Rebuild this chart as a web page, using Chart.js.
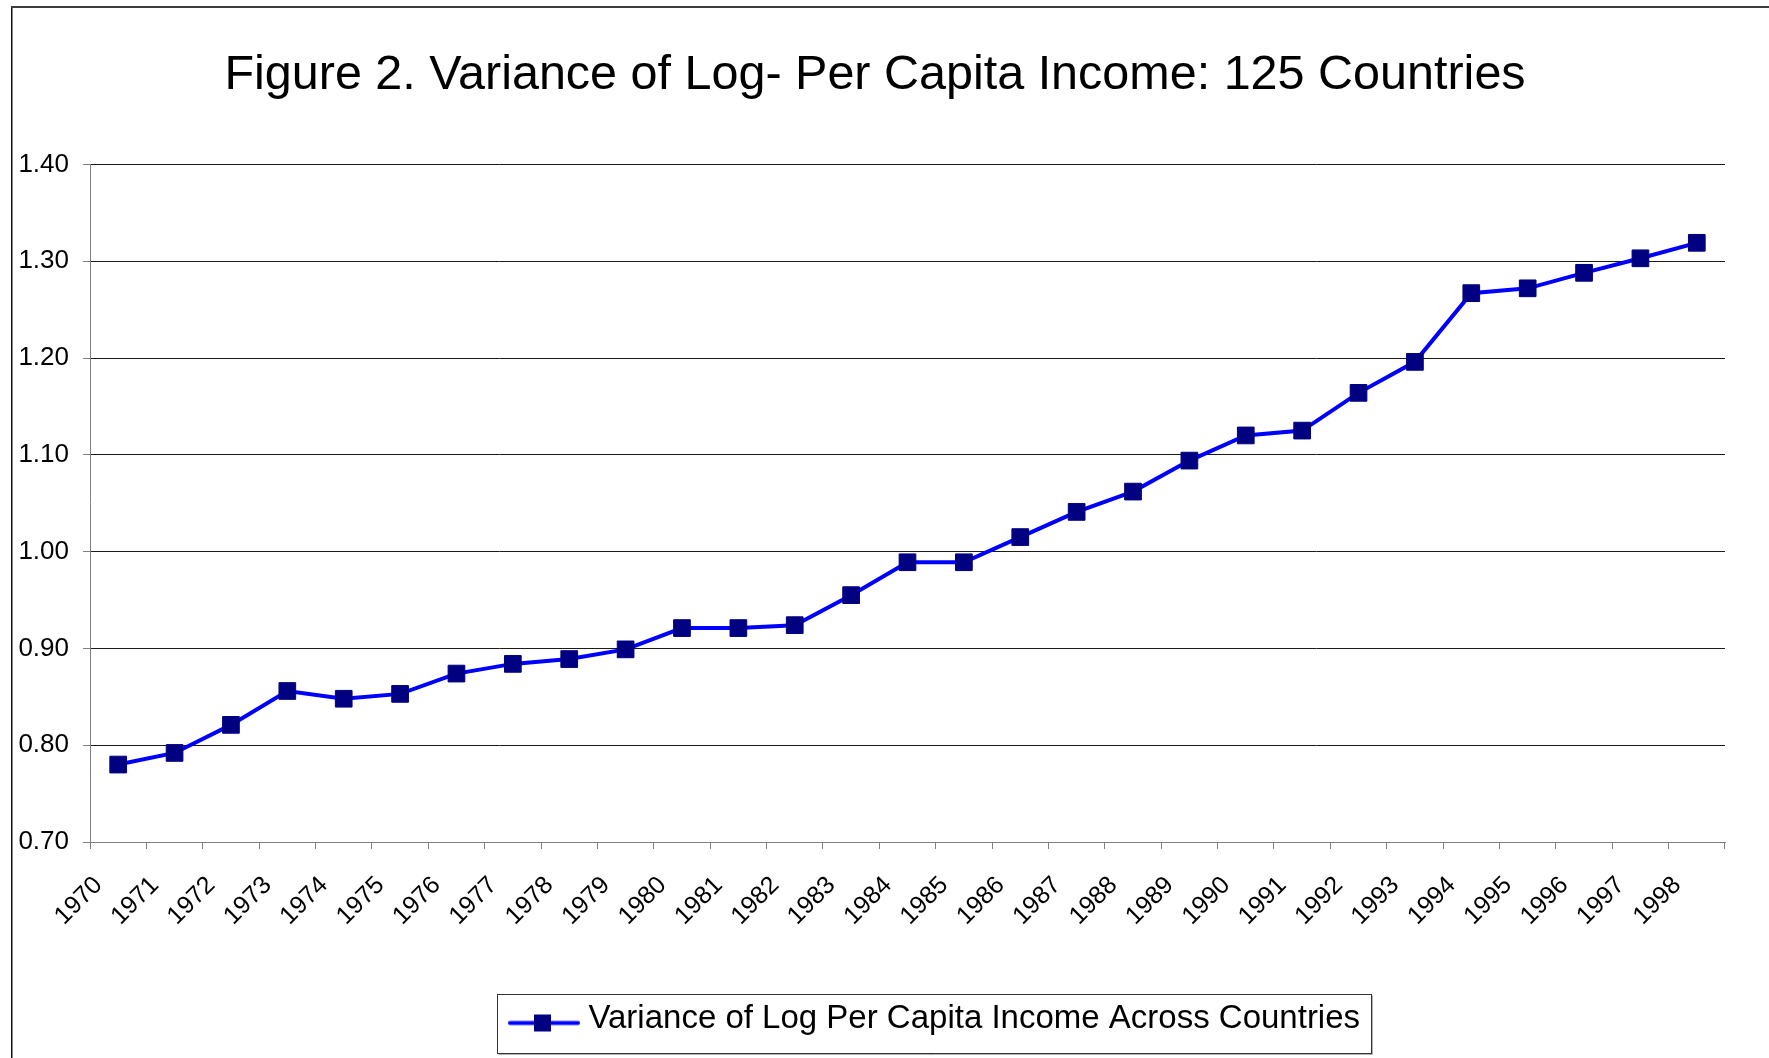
<!DOCTYPE html>
<html lang="en">
<head>
    <meta charset="UTF-8">
    <title>Figure 2. Variance of Log- Per Capita Income: 125 Countries</title>
    <script src="https://cdn.jsdelivr.net/npm/chart.js"></script>
    <style>
        body {
            margin: 0;
            background: #fff;
        }
        .chart-wrap {
            width: 1769px;
            height: 1058px;
        }
    </style>
</head>
<body>
    <div class="chart-wrap">
        <canvas id="varChart" width="1769" height="1058"></canvas>
    </div>
    <script>
        // Datos
        const years = ['1970', '1971', '1972', '1973', '1974', '1975', '1976', '1977', '1978', '1979',
                       '1980', '1981', '1982', '1983', '1984', '1985', '1986', '1987', '1988', '1989',
                       '1990', '1991', '1992', '1993', '1994', '1995', '1996', '1997', '1998'];
        const variance = [0.780, 0.792, 0.821, 0.856, 0.848, 0.853, 0.874, 0.884, 0.889, 0.899,
                          0.921, 0.921, 0.924, 0.955, 0.989, 0.989, 1.015, 1.041, 1.062, 1.094,
                          1.120, 1.125, 1.164, 1.196, 1.267, 1.272, 1.288, 1.303, 1.319];
        const yTicks = [0.70, 0.80, 0.90, 1.00, 1.10, 1.20, 1.30, 1.40];
        const seriesName = 'Variance of Log Per Capita Income Across Countries';
        const chartTitle = 'Figure 2. Variance of Log- Per Capita Income: 125 Countries';

        Chart.defaults.font.family = '"Liberation Sans", Arial, sans-serif';
        Chart.defaults.color = '#000';

        // Icono de la leyenda: linea azul con cuadrado
        const legendIcon = document.createElement('canvas');
        legendIcon.width = 72;
        legendIcon.height = 34;
        (function () {
            const c = legendIcon.getContext('2d');
            c.strokeStyle = '#0000FF';
            c.lineWidth = 4;
            c.lineCap = 'round';
            c.beginPath();
            c.moveTo(2, 21.5);
            c.lineTo(70, 21.5);
            c.stroke();
            c.fillStyle = '#000080';
            c.fillRect(26, 13, 17, 17);
        })();

        // Marco del area del grafico, desplazamientos y borde de la leyenda
        const framePlugin = {
            id: 'frame',
            beforeDraw(chart) {
                const ctx = chart.ctx;
                ctx.save();
                ctx.fillStyle = '#fff';
                ctx.fillRect(0, 0, chart.width, chart.height);
                ctx.fillStyle = '#111';
                ctx.fillRect(11, 6, 1.5, chart.height);
                ctx.fillStyle = '#3c3c3c';
                ctx.fillRect(11, 6, chart.width, 2);
                ctx.restore();
            },
            afterLayout(chart, args, opts) {
                chart.legend.left += opts.legendShift;
                chart.legend.right += opts.legendShift;
                chart.titleBlock.left += opts.titleShift;
                chart.titleBlock.right += opts.titleShift;
            },
            afterDraw(chart) {
                const h = chart.legend.legendHitBoxes[0];
                if (!h) return;
                const ctx = chart.ctx;
                const x0 = Math.round(h.left - 19) + 0.5;
                const x1 = Math.round(h.left + h.width + 11) + 0.5;
                const y0 = Math.round(h.top - 8.5) + 0.5;
                const y1 = Math.round(h.top + h.height + 18) + 0.5;
                ctx.save();
                ctx.strokeStyle = '#b0b0b0';
                ctx.lineWidth = 1;
                ctx.beginPath();
                ctx.moveTo(x0 + 1, y1 + 1);
                ctx.lineTo(x1 + 1, y1 + 1);
                ctx.lineTo(x1 + 1, y0 + 1);
                ctx.stroke();
                ctx.strokeStyle = '#333';
                ctx.strokeRect(x0, y0, x1 - x0, y1 - y0);
                ctx.restore();
            }
        };

        const ctx = document.getElementById('varChart').getContext('2d');
        new Chart(ctx, {
            type: 'line',
            data: {
                labels: years,
                datasets: [{
                    label: seriesName,
                    data: variance,
                    borderColor: '#0000FF',
                    borderWidth: 4,
                    tension: 0,
                    fill: false,
                    pointStyle: 'rect',
                    pointRadius: 11.8,
                    pointBackgroundColor: '#000080',
                    pointBorderColor: '#000080',
                    pointBorderWidth: 1
                }]
            },
            options: {
                responsive: false,
                animation: false,
                events: [],
                layout: {
                    padding: { top: 0, left: 12, right: 44, bottom: 13 }
                },
                plugins: {
                    frame: { legendShift: 69.5, titleShift: 6.5 },
                    tooltip: { enabled: false },
                    title: {
                        display: true,
                        text: chartTitle,
                        color: '#000',
                        font: { size: 48.5, weight: 'normal' },
                        padding: { top: 46.4, bottom: 59.8 }
                    },
                    legend: {
                        position: 'bottom',
                        labels: {
                            usePointStyle: true,
                            pointStyleWidth: 56,
                            padding: 10,
                            color: '#000',
                            font: { size: 33 },
                            generateLabels: (chart) =>
                                Chart.defaults.plugins.legend.labels.generateLabels(chart)
                                    .map(l => Object.assign(l, { pointStyle: legendIcon }))
                        }
                    }
                },
                scales: {
                    x: {
                        offset: true,
                        afterFit: (scale) => { scale.height = 150; },
                        grid: {
                            display: true,
                            drawOnChartArea: false,
                            offset: true,
                            tickLength: 7,
                            color: '#808080'
                        },
                        border: { color: '#808080', width: 1 },
                        ticks: {
                            autoSkip: false,
                            minRotation: 45,
                            maxRotation: 45,
                            padding: 2,
                            color: '#000',
                            font: { size: 25 },
                            callback: (v, i) => years[i] + '    '
                        }
                    },
                    y: {
                        min: yTicks[0],
                        max: yTicks[yTicks.length - 1],
                        afterFit: (scale) => { scale.width = 78; },
                        afterBuildTicks: (scale) => {
                            scale.ticks = yTicks.map(v => ({ value: v }));
                        },
                        grid: {
                            color: '#1a1a1a',
                            tickColor: '#808080',
                            tickLength: 7,
                            lineWidth: 1
                        },
                        border: { color: '#808080', width: 1 },
                        ticks: {
                            padding: 14,
                            color: '#000',
                            font: { size: 26 },
                            callback: (v) => Number(v).toFixed(2)
                        }
                    }
                }
            },
            plugins: [framePlugin]
        });
    </script>
</body>
</html>
